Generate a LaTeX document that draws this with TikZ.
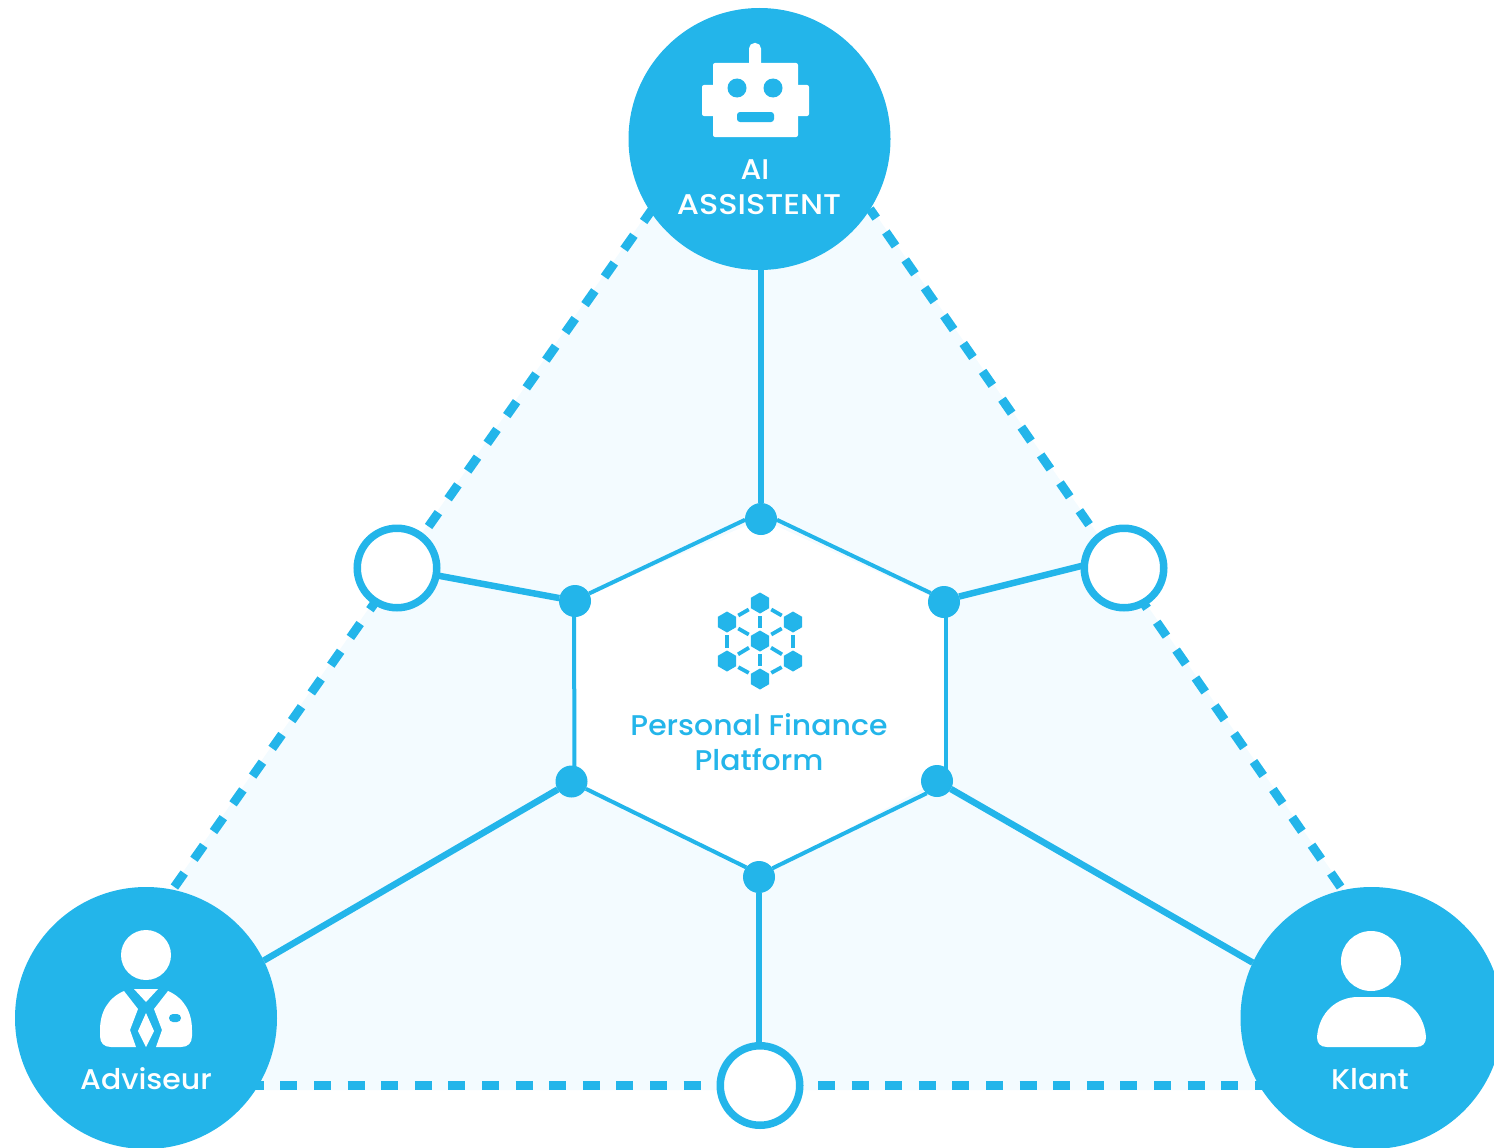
\documentclass[tikz,border=0pt]{standalone}
\usepackage{fontspec}
\setmainfont{Poppins Medium}[FakeStretch=1.05]
\newfontfamily\widefont{Poppins Medium}[FakeStretch=1.12]
\usetikzlibrary{shapes.geometric,backgrounds}
\definecolor{brandblue}{HTML}{23B5EA}
\definecolor{palefill}{HTML}{F3FBFF}
\tikzset{
  bigcircle/.style={circle,fill=brandblue,minimum size=262pt,inner sep=0pt,outer sep=0pt},
  hollow/.style={circle,draw=brandblue,fill=white,line width=7.5pt,minimum size=79.5pt,inner sep=0pt,outer sep=0pt},
  hub/.style={circle,fill=brandblue,minimum size=32pt,inner sep=0pt,outer sep=0pt},
  diagdash/.style={draw=brandblue,line width=9pt,dash pattern=on 17pt off 16.93pt},
  flatdash/.style={draw=brandblue,line width=9pt,dash pattern=on 17pt off 16.6pt},
  thick link/.style={draw=brandblue,line width=6.5pt},
  thin link/.style={draw=brandblue,line width=4pt},
  hexa/.style={regular polygon,regular polygon sides=6,shape border rotate=30,fill=brandblue,minimum size=21pt,inner sep=0pt,outer sep=0pt},
  netlink/.style={draw=brandblue,line width=3.8pt,shorten >=2.5pt,shorten <=2.5pt},
  whitelabel/.style={text=white,font=\fontsize{28.5}{35}\selectfont,inner sep=0pt},
  bluelabel/.style={text=brandblue,font=\fontsize{28.5}{35}\selectfont,inner sep=0pt},
  icon/.style={fill=white,draw=none}
}
\begin{document}
\begin{tikzpicture}[x=1pt,y=-1pt]
\clip (0,0) rectangle (1494,1148);
% main nodes
\node[bigcircle] (ai) at (759.5,139) {};
\node[bigcircle] (adv) at (146,1018) {};
\node[bigcircle] (klant) at (1371.5,1018) {};
\node[hollow] (h1) at (397,568) {};
\node[hollow] (h2) at (1124,568) {};
\node[hollow] (h3) at (760,1085.5) {};
\node[hub] (p1) at (761,519) {};
\node[hub] (p2) at (944,602) {};
\node[hub] (p3) at (937,781) {};
\node[hub] (p4) at (759,877) {};
\node[hub] (p5) at (571.5,781.5) {};
\node[hub] (p6) at (575,601) {};
\coordinate (dL1) at (174.4,887);
\coordinate (dL2) at (651.7,210);
\coordinate (dR1) at (1340.6,887);
\coordinate (dR2) at (869.9,209);
\begin{scope}[on background layer]
  \fill[palefill] ([xshift=-2pt]dL2) -- ([xshift=-2pt]dL1) -- (adv.center) -- (adv.center |- 0,1090) -- (klant.center |- 0,1090) -- (klant.center) -- ([xshift=2pt]dR1) -- ([xshift=2pt]dR2) -- (ai.center) -- cycle;
  \fill[white] (p1.center) -- (p2.center) -- ([xshift=9pt]p3.center) -- (p3.center) -- (p4.center) -- (p5.center) -- ([xshift=3pt]p5.center) -- (p6.center) -- cycle;
  \path[diagdash] (dL1) -- (dL2);
  \path[diagdash] (dR1) -- (dR2);
  \path[flatdash] (adv.center |- h3.center) -- (klant.center |- h3.center);
  \draw[thick link] (p1 |- ai.south) -- (p1);
  \draw[thick link] (h1) -- (p6);
  \draw[thick link] (h2.176) -- (p2.20);
  \draw[thick link] (p4) -- (p4 |- h3.north);
  \draw[thick link] (adv.26.6) -- (p5.210);
  \draw[thick link] (klant.155.4) -- (p3.-30);
  \draw[thin link] (p1.-3) -- (p2.146);
  \draw[thin link] ([xshift=2pt]p2.center) -- ([xshift=9pt]p3.center);
  \draw[thin link] (p3.230) -- (p4.33);
  \draw[thin link] (p4.143) -- (p5.-27);
  \draw[thin link] ([xshift=3pt]p5.center) -- ([xshift=-1pt]p6.center);
  \draw[thin link] (p6.28) -- (p1.183);
\end{scope}
% robot
\fill[icon,rounded corners=2pt] (713,63) rectangle (798,137);
\fill[icon,rounded corners=2pt] (702,85) rectangle (809,116);
\fill[icon,rounded corners=5.5pt] (749,43) rectangle (761,70);
\fill[brandblue] (737,88) circle (9.5pt);
\fill[brandblue] (773,88) circle (9.5pt);
\fill[brandblue,rounded corners=3pt] (737,112) rectangle (774,122);
% adviser
\fill[icon] (146,955) circle (25pt);
\fill[icon] (124,991) .. controls (108,998) and (100,1012) .. (100,1030) -- (100,1036) .. controls (100,1043) and (104,1047) .. (111,1047) -- (136,1047) -- (130,1030) -- (138,1009) -- cycle;
\fill[icon] (168,991) .. controls (184,998) and (192,1012) .. (192,1030) -- (192,1036) .. controls (192,1043) and (188,1047) .. (181,1047) -- (156,1047) -- (162,1030) -- (154,1009) -- cycle;
\fill[icon] (134,989) -- (158,989) -- (146,1002) -- cycle;
\fill[icon] (146,1013) -- (154,1031) -- (146,1047) -- (138,1031) -- cycle;
\fill[brandblue,rounded corners=4pt] (169,1014) rectangle (181,1022);
% client
\fill[icon] (1371,961) circle (30pt);
\fill[icon] (1317,1037) .. controls (1319,1012) and (1337,997) .. (1358,997) -- (1385,997) .. controls (1406,997) and (1424,1012) .. (1426,1037) .. controls (1426,1043) and (1423,1047) .. (1416,1047) -- (1327,1047) .. controls (1320,1047) and (1317,1043) .. (1317,1037) -- cycle;
% network icon
\node[hexa] (n0) at (760,641) {};
\node[hexa] (n1) at (760,603) {};
\node[hexa] (n2) at (793,622) {};
\node[hexa] (n3) at (793,661) {};
\node[hexa] (n4) at (760,679) {};
\node[hexa] (n5) at (727,661) {};
\node[hexa] (n6) at (727,622) {};
\foreach \i/\j in {1/2,2/3,3/4,4/5,5/6,6/1}{
  \draw[netlink] (n\i) -- (n\j);
  \draw[netlink] (n0) -- (n\i);
}
% labels
\node[whitelabel] (l1) at (755,170) {AI};
\node[whitelabel] (l2) at (759,205) {\widefont ASSISTENT};
\node[whitelabel] (l3) at (146,1079) {Adviseur};
\node[whitelabel] (l4) at (1370,1079) {Klant};
\node[bluelabel] (l5) at (759,724.5) {Personal Finance};
\node[bluelabel] (l6) at (759,759.5) {Platform};
\end{tikzpicture}
\end{document}
